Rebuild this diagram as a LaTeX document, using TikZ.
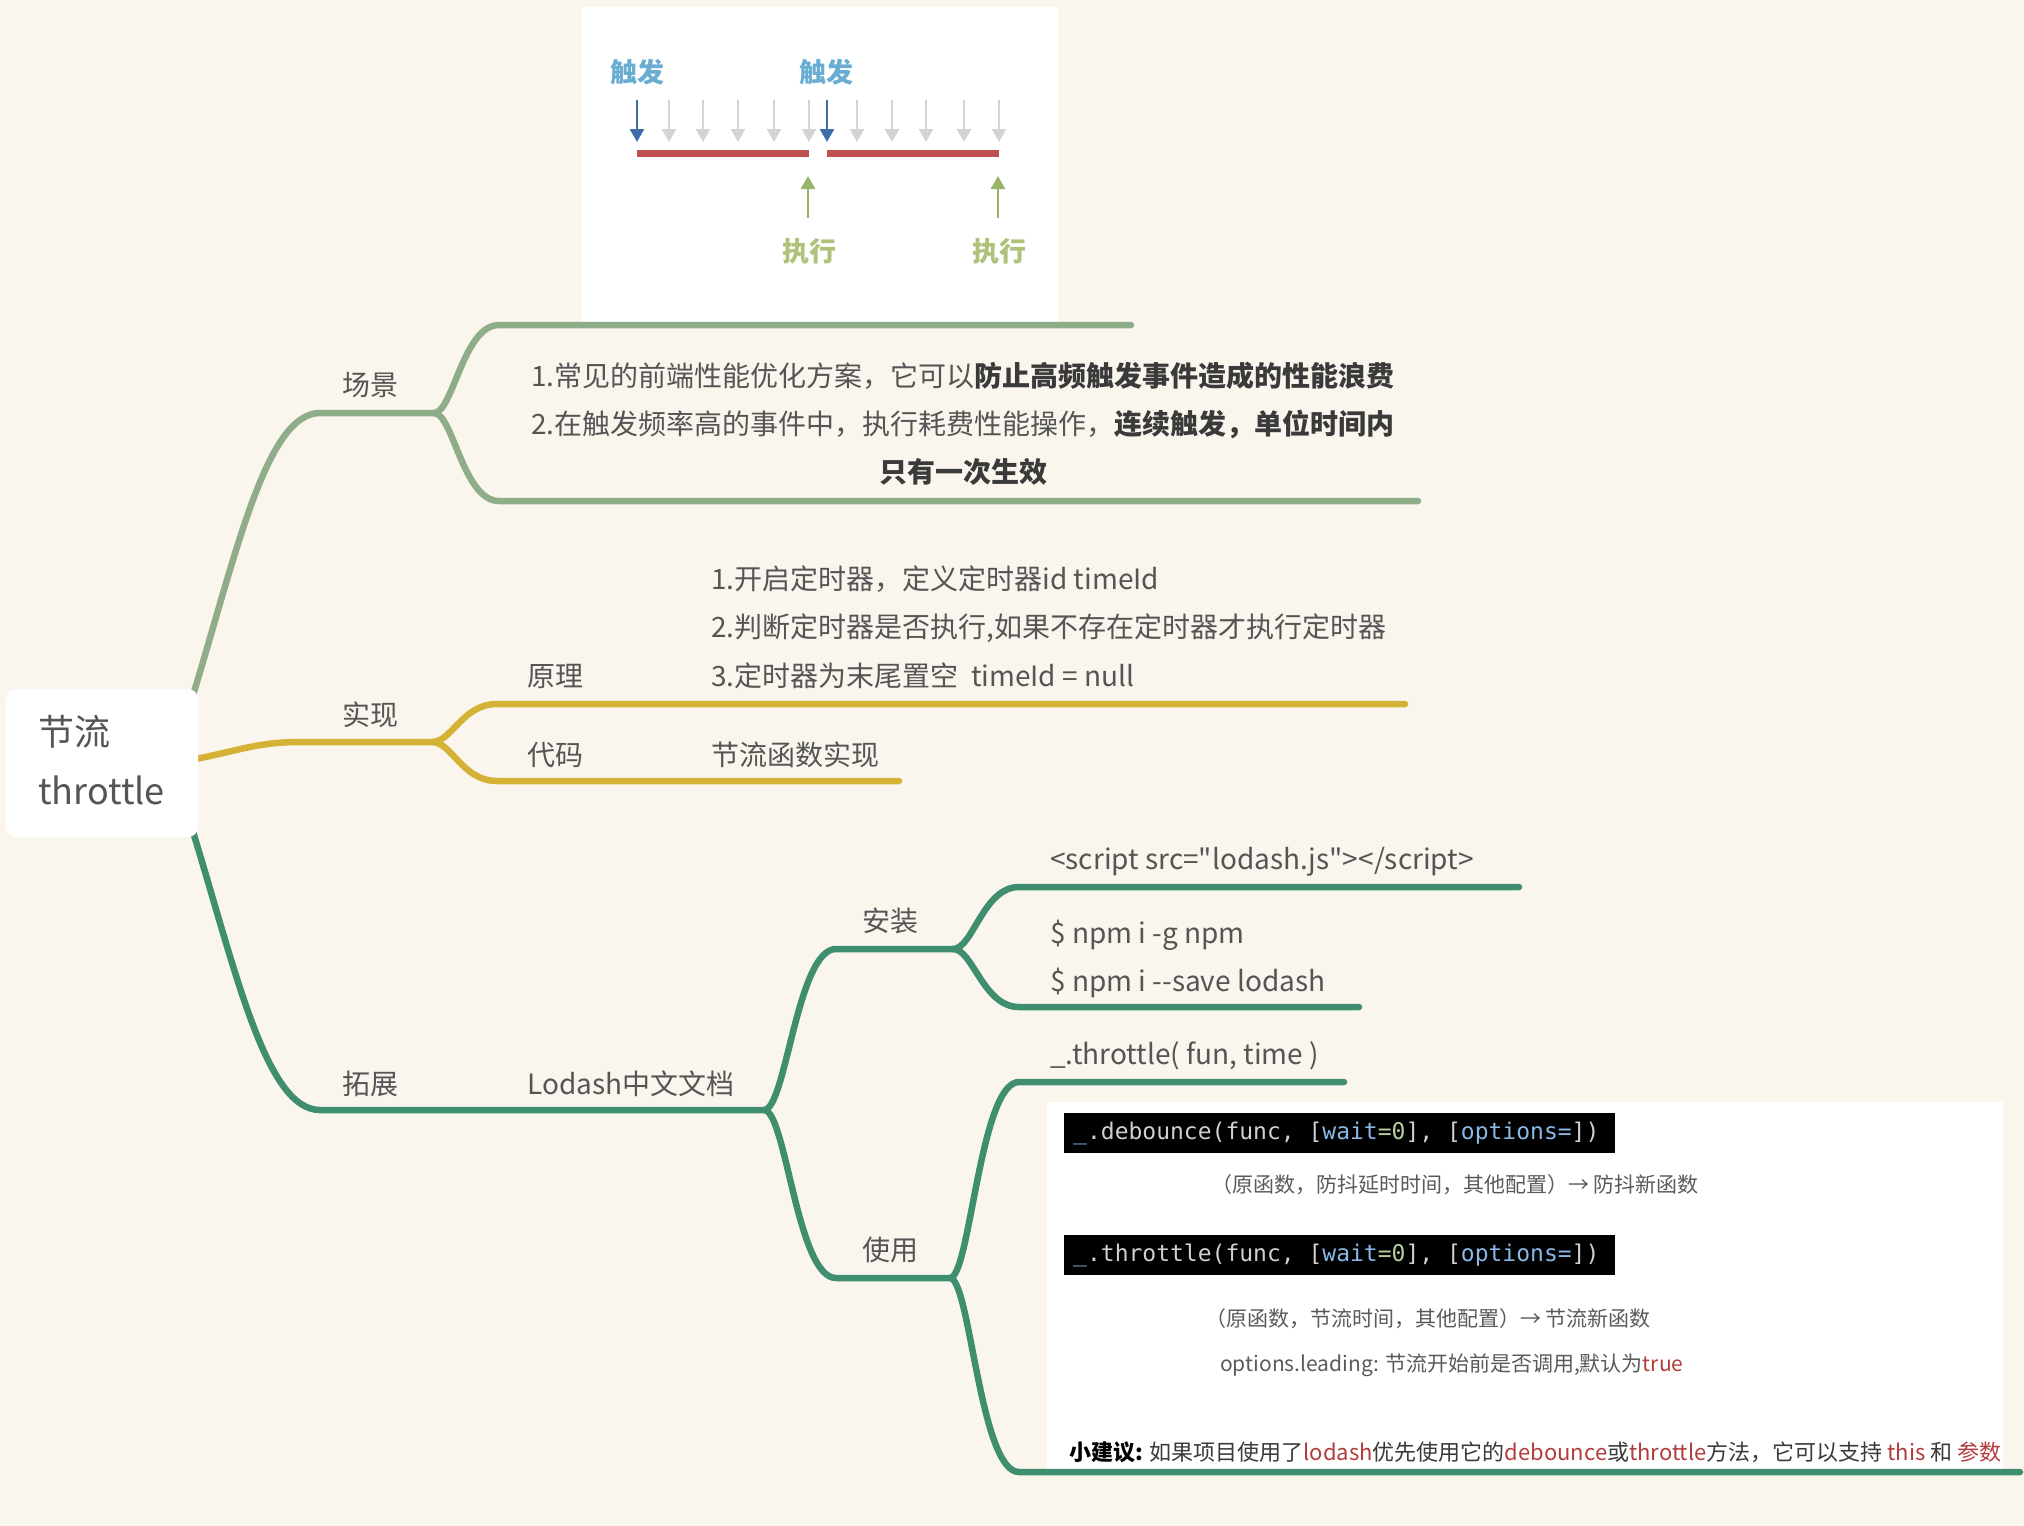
\documentclass[tikz,border=0pt]{standalone}
\usepackage{fontspec}
\setmainfont{Noto Sans CJK SC}[Ligatures=TeXOff]
\newfontfamily\codefont{DejaVu Sans Mono}[Ligatures=TeXOff]
\usetikzlibrary{arrows.meta}
\definecolor{bg}{HTML}{FAF6EE}
\definecolor{sage}{HTML}{90AD8A}
\definecolor{gold}{HTML}{D5B236}
\definecolor{teal}{HTML}{3F8E6F}
\definecolor{txt}{HTML}{555555}
\definecolor{dark}{HTML}{3A3A3A}
\definecolor{redt}{HTML}{B23C3C}
\definecolor{trig}{HTML}{6AADD2}
\definecolor{exe}{HTML}{AEC27A}
\definecolor{arrblue}{HTML}{3E6DA8}
\definecolor{arrgrey}{HTML}{D4D4D4}
\definecolor{barred}{HTML}{C0504D}
\definecolor{arrgreen}{HTML}{9AB36A}
\definecolor{codeg}{HTML}{D0D0D0}
\definecolor{codeb}{HTML}{8AB8E6}
\definecolor{codegr}{HTML}{B5CFA0}
\definecolor{capt}{HTML}{5A5A5A}
\tikzset{
  x=1pt,y=-1pt,
  br/.style={line width=6.5pt, line cap=round, line join=round},
  basetxt/.style={anchor=west, inner sep=0pt, text height=1.3em, text depth=0em, text=txt},
  lbl/.style={basetxt, yshift=-6pt, font=\fontsize{28}{32}\selectfont},
  lblc/.style={lbl, anchor=center},
  roottxt/.style={basetxt, yshift=-8pt, font=\fontsize{36}{40}\selectfont},
  captxt/.style={basetxt, yshift=-2pt, text=capt, font=\fontsize{21}{24}\selectfont},
  codebox/.style={fill=black, draw=none},
  codetxt/.style={anchor=west, inner sep=0pt, text=codeg, font=\codefont\fontsize{23}{26}\selectfont},
  darr/.style={-{Triangle[length=13pt,width=14pt]}, line width=2.6pt},
  fig/.style={anchor=center, inner sep=0pt, font=\fontsize{27}{30}\selectfont\bfseries}
}
\begin{document}
\begin{tikzpicture}
\fill[bg] (0,0) rectangle (2024,1526);
\useasboundingbox (0,0) rectangle (2024,1526);

% ---------- top illustration panel ----------
\fill[white] (582,7) rectangle (1058,322);
\node[fig, text=trig] (tr1) at (637,72) {触发};
\node[fig, text=trig] (tr2) at (826,72) {触发};
\foreach \xx in {669,703,738,774,809,857,892,926,964,999}
  \draw[darr, arrgrey] (\xx,100) -- (\xx,142);
\draw[darr, arrblue] (637,100) -- (637,142);
\draw[darr, arrblue] (827,100) -- (827,142);
\draw[line width=7pt, barred] (637,153) -- (809,153);
\draw[line width=7pt, barred] (827,153) -- (999,153);
\draw[darr, arrgreen] (808,218) -- (808,176);
\draw[darr, arrgreen] (998,218) -- (998,176);
\node[fig, text=exe] (ex1) at (809,251) {执行};
\node[fig, text=exe] (ex2) at (999,251) {执行};

% ---------- bottom illustration panel ----------
\fill[white] (1047,1102) rectangle (2003,1470);
\fill[codebox] (1064,1113) rectangle (1615,1153);
\fill[codebox] (1064,1235) rectangle (1615,1275);
\node[codetxt] (c1) at (1073,1133) {{\color{codeb}\_}.debounce(func, [{\color{codeb}wait}{\color{codegr}=0}], [{\color{codeb}options=}])};
\node[codetxt] (c2) at (1073,1255) {{\color{codeb}\_}.throttle(func, [{\color{codeb}wait}{\color{codegr}=0}], [{\color{codeb}options=}])};
\node[captxt] (cp1) at (1211,1184) {（原函数，防抖延时时间，其他配置）→ 防抖新函数};
\node[captxt] (cp2) at (1205,1318) {（原函数，节流时间，其他配置）→ 节流新函数};
\node[captxt] (cp3) at (1220,1363) {options.leading: 节流开始前是否调用,默认为{\color{redt}true}};
\node[captxt, font=\fontsize{22}{24}\selectfont, text=dark] (tip) at (1069,1452)
  {\textbf{\color{black}小建议:} 如果项目使用了{\color{redt}lodash}优先使用它的{\color{redt}debounce}或{\color{redt}throttle}方法，它可以支持 {\color{redt}this} 和 {\color{redt}参数}};

% ---------- coordinates ----------
\coordinate (r1) at (190,705);  \coordinate (j1) at (320,413);  \coordinate (f1) at (434,413);
\coordinate (u1) at (499,325);  \coordinate (u1e) at (1131,325);
\coordinate (d1) at (499,501);  \coordinate (d1e) at (1418,501);

\coordinate (r2) at (190,760);  \coordinate (j2) at (300,742);  \coordinate (f2) at (432,742);
\coordinate (u2) at (497,704);  \coordinate (u2e) at (1405,704);
\coordinate (d2) at (497,781);  \coordinate (d2e) at (899,781);

\coordinate (r3) at (190,822);  \coordinate (j3) at (320,1110); \coordinate (f3) at (764,1110);
\coordinate (u3) at (836,949);  \coordinate (f4) at (953,949);
\coordinate (d3) at (836,1278); \coordinate (f5) at (950,1278);
\coordinate (u4) at (1019,887); \coordinate (u4e) at (1519,887);
\coordinate (d4) at (1019,1007);\coordinate (d4e) at (1359,1007);
\coordinate (u5) at (1019,1082);\coordinate (u5e) at (1344,1082);
\coordinate (d5) at (1019,1472);\coordinate (d5e) at (2020,1472);

% ---------- branches ----------
\draw[br,sage] (r1) .. controls (235,560) and (265,413) .. (j1) -- (f1);
\draw[br,sage] (f1) .. controls (453,413) and (463,325) .. (u1) -- (u1e);
\draw[br,sage] (f1) .. controls (453,413) and (463,501) .. (d1) -- (d1e);

\draw[br,gold] (r2) .. controls (235,752) and (255,742) .. (j2) -- (f2);
\draw[br,gold] (f2) .. controls (452,742) and (462,704) .. (u2) -- (u2e);
\draw[br,gold] (f2) .. controls (452,742) and (462,781) .. (d2) -- (d2e);

\draw[br,teal] (r3) .. controls (235,967) and (265,1110) .. (j3) -- (f3);
\draw[br,teal] (f3) .. controls (786,1110) and (797,949) .. (u3) -- (f4);
\draw[br,teal] (f3) .. controls (786,1110) and (797,1278) .. (d3) -- (f5);
\draw[br,teal] (f4) .. controls (973,949) and (983,887) .. (u4) -- (u4e);
\draw[br,teal] (f4) .. controls (973,949) and (983,1007) .. (d4) -- (d4e);
\draw[br,teal] (f5) .. controls (970,1278) and (980,1082) .. (u5) -- (u5e);
\draw[br,teal] (f5) .. controls (970,1278) and (980,1472) .. (d5) -- (d5e);

% ---------- root ----------
\node[fill=white, rounded corners=10pt, minimum width=192pt, minimum height=148pt, inner sep=0pt] (root) at (102,763) {};
\node[roottxt] (rt1) at (38,731) {节流};
\node[roottxt] (rt2) at (38,790) {throttle};

% ---------- labels ----------
\node[lbl] (cj) at (342,383) {场景};
\node[lbl] (sx) at (342,713) {实现};
\node[lbl] (tz) at (342,1082) {拓展};

\node[lbl] (cj1) at (531,374) {1.常见的前端性能优化方案，它可以\textbf{\color{dark}防止高频触发事件造成的性能浪费}};
\node[lbl] (cj2) at (531,422) {2.在触发频率高的事件中，执行耗费性能操作，\textbf{\color{dark}连续触发，单位时间内}};
\node[lblc] (cj3) at (963,470) {\textbf{\color{dark}只有一次生效}};

\node[lbl] (yl) at (527,674) {原理};
\node[lbl] (dm) at (527,753) {代码};
\node[lbl] (yl1) at (711,577) {1.开启定时器，定义定时器id timeId};
\node[lbl] (yl2) at (711,625) {2.判断定时器是否执行,如果不存在定时器才执行定时器};
\node[lbl] (yl3) at (711,674) {3.定时器为末尾置空\ \ timeId = null};
\node[lbl] (dm1) at (711,753) {节流函数实现};

\node[lbl] (ld) at (527,1082) {Lodash中文文档};
\node[lbl] (az) at (862,919) {安装};
\node[lbl] (sy) at (862,1248) {使用};
\node[lbl] (az1) at (1050,857) {<script src="lodash.js"></script>};
\node[lbl] (az2) at (1050,931) {\$ npm i -g npm};
\node[lbl] (az3) at (1050,979) {\$ npm i --save lodash};
\node[lbl] (sy1) at (1050,1052) {\_.throttle( fun, time )};
\end{tikzpicture}
\end{document}
